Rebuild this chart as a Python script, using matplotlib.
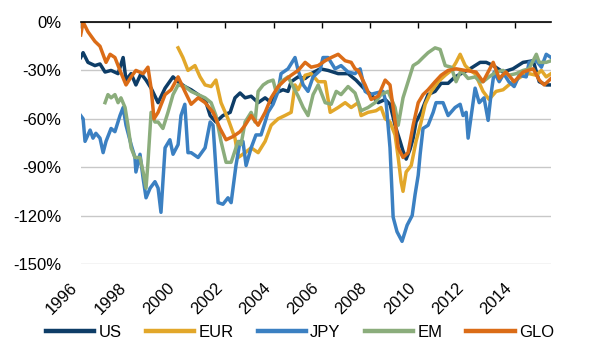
import matplotlib
matplotlib.use("Agg")
import matplotlib.pyplot as plt

plt.rcParams['font.family'] = ['Liberation Sans', 'DejaVu Sans']

# decimal years and drawdown values (%)
us_t = [1996.0, 1996.1, 1996.3, 1996.59, 1996.8, 1997.01, 1997.26, 1997.55, 1997.76, 1997.88,
        1998.09, 1998.29, 1998.5, 1998.71, 1998.92, 1999.21, 1999.5, 1999.83, 2000.04, 2000.32,
        2000.58, 2000.87, 2001.16, 2001.37, 2001.61, 2001.9, 2002.2, 2002.4, 2002.61, 2002.82,
        2003.07, 2003.36, 2003.65, 2003.9, 2004.1, 2004.39, 2004.6, 2004.73, 2005.02, 2005.31,
        2005.56, 2005.93, 2006.26, 2006.68, 2007.09, 2007.42, 2007.8, 2008.05, 2008.34, 2008.63,
        2008.83, 2009.04, 2009.25, 2009.37, 2009.5, 2009.66, 2009.79, 2009.91, 2010.12, 2010.41,
        2010.7, 2010.95, 2011.24, 2011.53, 2011.78, 2012.15, 2012.57, 2012.82, 2013.11, 2013.52,
        2013.93, 2014.35, 2014.77, 2015.02, 2015.31, 2015.51]
us_v = [-22, -19, -25, -27, -26, -31, -30, -32, -22, -36,
        -32, -39, -32, -36, -41, -50, -41, -34, -37, -40,
        -42, -45, -48, -58, -62, -58, -56, -47, -44, -47,
        -46, -50, -47, -50, -44, -42, -43, -37, -34, -35,
        -32, -29, -30, -32, -32, -36, -42, -45, -50, -48,
        -51, -64, -74, -80, -85, -79, -72, -62, -56, -45,
        -43, -38, -38, -34, -32, -29, -25, -25, -27, -31,
        -29, -25, -24, -37, -39, -39]

eur_t = [2000.04, 2000.24, 2000.45, 2000.74, 2000.95, 2001.16, 2001.41, 2001.61, 2001.82, 2002.11,
         2002.4, 2002.53, 2002.82, 2003.07, 2003.36, 2003.65, 2003.9, 2004.19, 2004.47, 2004.73,
         2004.89, 2005.02, 2005.31, 2005.56, 2005.85, 2006.14, 2006.35, 2006.68, 2006.97, 2007.22,
         2007.51, 2007.63, 2007.92, 2008.25, 2008.46, 2008.63, 2008.83, 2009.04, 2009.17, 2009.29,
         2009.37, 2009.5, 2009.71, 2009.91, 2010.12, 2010.29, 2010.54, 2010.83, 2011.12, 2011.37,
         2011.57, 2011.74, 2011.95, 2012.15, 2012.36, 2012.69, 2012.94, 2013.23, 2013.52, 2013.76,
         2014.06, 2014.35, 2014.6, 2014.9, 2015.11, 2015.31, 2015.51]
eur_v = [-16, -22, -30, -27, -34, -39, -40, -36, -50, -60,
         -72, -84, -81, -78, -81, -74, -64, -60, -58, -56,
         -39, -42, -33, -32, -37, -37, -56, -53, -50, -53,
         -50, -58, -56, -55, -53, -60, -62, -70, -84, -99,
         -105, -93, -89, -74, -62, -51, -43, -37, -33, -30,
         -25, -20, -27, -30, -32, -43, -48, -43, -42, -39,
         -36, -33, -32, -33, -30, -34, -32]

jpy_t = [1996.0, 1996.1, 1996.18, 1996.39, 1996.51, 1996.63, 1996.8, 1996.93, 1997.05, 1997.26,
         1997.42, 1997.63, 1997.76, 1997.88, 1998.09, 1998.25, 1998.29, 1998.46, 1998.59, 1998.71,
         1998.88, 1999.08, 1999.21, 1999.33, 1999.5, 1999.7, 1999.83, 2000.04, 2000.16, 2000.32,
         2000.45, 2000.58, 2000.87, 2001.16, 2001.37, 2001.49, 2001.7, 2001.9, 2002.11, 2002.24,
         2002.44, 2002.61, 2002.73, 2002.86, 2003.07, 2003.27, 2003.48, 2003.65, 2003.77, 2003.98,
         2004.19, 2004.31, 2004.6, 2004.89, 2005.02, 2005.23, 2005.43, 2005.64, 2005.93, 2006.05,
         2006.26, 2006.55, 2006.8, 2007.09, 2007.38, 2007.59, 2007.8, 2008.0, 2008.25, 2008.54,
         2008.67, 2008.83, 2008.96, 2009.12, 2009.33, 2009.54, 2009.75, 2009.87, 2010.0, 2010.08,
         2010.2, 2010.41, 2010.62, 2010.74, 2011.03, 2011.24, 2011.53, 2011.74, 2011.86, 2011.99,
         2012.07, 2012.2, 2012.36, 2012.53, 2012.73, 2012.9, 2013.02, 2013.15, 2013.36, 2013.55,
         2013.76, 2013.98, 2014.19, 2014.48, 2014.6, 2014.9, 2015.11, 2015.31, 2015.51]
jpy_v = [-58, -60, -74, -67, -72, -69, -72, -81, -74, -66,
         -68, -58, -53, -64, -76, -84, -93, -82, -97, -109,
         -103, -99, -103, -118, -78, -73, -82, -76, -58, -51,
         -81, -81, -84, -78, -62, -64, -112, -113, -109, -112,
         -89, -74, -74, -89, -78, -70, -70, -62, -56, -51,
         -43, -32, -29, -22, -30, -39, -43, -34, -30, -22,
         -22, -29, -27, -31, -32, -29, -43, -45, -44, -43,
         -50, -78, -121, -130, -136, -126, -120, -107, -95, -82,
         -66, -64, -56, -50, -50, -58, -53, -51, -58, -56,
         -72, -58, -41, -50, -47, -61, -45, -31, -37, -32,
         -37, -40, -33, -34, -25, -24, -28, -20, -22]

em_t = [1997.01, 1997.13, 1997.26, 1997.42, 1997.55, 1997.67, 1997.84, 1997.96, 1998.09, 1998.25,
        1998.46, 1998.59, 1998.71, 1998.79, 1998.92, 1999.08, 1999.21, 1999.41, 1999.62, 1999.83,
        2000.04, 2000.32, 2000.58, 2000.87, 2001.16, 2001.41, 2001.61, 2001.82, 2002.03, 2002.24,
        2002.44, 2002.53, 2002.65, 2002.82, 2003.07, 2003.23, 2003.36, 2003.57, 2003.77, 2003.98,
        2004.1, 2004.31, 2004.6, 2004.81, 2005.02, 2005.23, 2005.43, 2005.64, 2005.85, 2006.14,
        2006.39, 2006.6, 2006.8, 2007.09, 2007.38, 2007.63, 2007.92, 2008.21, 2008.46, 2008.75,
        2009.04, 2009.17, 2009.37, 2009.58, 2009.79, 2010.0, 2010.2, 2010.41, 2010.7, 2010.91,
        2011.12, 2011.37, 2011.57, 2011.78, 2012.07, 2012.36, 2012.57, 2012.69, 2012.94, 2013.23,
        2013.52, 2013.76, 2014.06, 2014.35, 2014.6, 2014.9, 2015.02, 2015.31, 2015.51]
em_v = [-50, -45, -47, -45, -50, -47, -53, -64, -78, -84,
        -84, -93, -103, -87, -56, -62, -62, -66, -56, -45,
        -39, -40, -43, -45, -47, -50, -58, -74, -87, -87,
        -78, -74, -76, -62, -56, -62, -43, -39, -37, -36,
        -43, -37, -34, -40, -46, -53, -58, -45, -39, -50,
        -51, -43, -45, -40, -44, -55, -53, -50, -45, -43,
        -53, -64, -47, -37, -27, -25, -22, -19, -16, -17,
        -27, -28, -37, -30, -35, -34, -37, -37, -34, -31,
        -30, -33, -32, -30, -29, -20, -25, -25, -24]

glo_t = [1996.0, 1996.1, 1996.3, 1996.59, 1996.8, 1997.05, 1997.22, 1997.42, 1997.63, 1997.88,
         1998.09, 1998.29, 1998.59, 1998.79, 1998.92, 1999.04, 1999.21, 1999.5, 1999.75, 2000.04,
         2000.32, 2000.58, 2000.87, 2001.16, 2001.49, 2001.78, 2002.03, 2002.32, 2002.61, 2002.82,
         2003.07, 2003.36, 2003.65, 2003.9, 2004.19, 2004.47, 2004.73, 2005.02, 2005.31, 2005.56,
         2005.85, 2006.14, 2006.39, 2006.68, 2006.97, 2007.22, 2007.38, 2007.51, 2007.8, 2008.05,
         2008.34, 2008.63, 2008.83, 2009.08, 2009.17, 2009.37, 2009.58, 2009.79, 2010.0, 2010.2,
         2010.41, 2010.7, 2010.95, 2011.24, 2011.57, 2011.95, 2012.4, 2012.69, 2013.11, 2013.36,
         2013.64, 2013.98, 2014.35, 2014.77, 2015.02, 2015.23, 2015.51]
glo_v = [-8, 0, -6, -12, -15, -25, -20, -22, -30, -39,
         -34, -30, -32, -28, -41, -60, -56, -45, -42, -34,
         -43, -51, -47, -50, -56, -66, -73, -71, -68, -64,
         -58, -64, -56, -47, -40, -36, -33, -30, -25, -28,
         -27, -24, -22, -20, -24, -25, -29, -30, -39, -48,
         -46, -36, -39, -66, -78, -84, -81, -64, -50, -45,
         -42, -37, -33, -30, -29, -30, -31, -37, -25, -35,
         -31, -37, -31, -29, -36, -39, -35]

series = [("US", us_t, us_v, "#0e3d67"),
          ("EUR", eur_t, eur_v, "#e2a72a"),
          ("JPY", jpy_t, jpy_v, "#3b80c2"),
          ("EM", em_t, em_v, "#8bad7c"),
          ("GLO", glo_t, glo_v, "#db6c17")]

year_ticks = list(range(1996, 2015, 2))
y_ticks = [0, -30, -60, -90, -120, -150]

fig = plt.figure(figsize=(6, 3.5), dpi=100)
ax = fig.add_axes([0.1345, 0.246, 0.7835, 0.691])

for name, t, v, c in series:
    ax.plot(t, v, color=c, lw=2.5, label=name, solid_joinstyle='round')

ax.set_xlim(1996, 2015.5)
ax.set_ylim(-150, 0)
ax.set_yticks(y_ticks)
ax.set_yticklabels(["%d%%" % y for y in y_ticks], fontsize=12)
ax.set_xticks(year_ticks)
ax.set_xticklabels([str(y) for y in year_ticks], rotation=45, ha='right', va='top', fontsize=12)
ax.tick_params(axis='y', length=0, pad=14)
ax.tick_params(axis='x', top=True, bottom=False, labelbottom=True, direction='in',
               length=4, width=1, pad=12)
ax.grid(axis='y', color='#c8c8c8', lw=1)
ax.set_axisbelow(True)
for s in ['left', 'right', 'bottom']:
    ax.spines[s].set_visible(False)
ax.spines['top'].set_linewidth(1.2)

leg = fig.legend(loc='center', bbox_to_anchor=(0.5, 0.05), ncol=5, frameon=False,
                 fontsize=12, handlelength=2.9, handletextpad=0.25, columnspacing=1.45)
for line in leg.get_lines():
    line.set_linewidth(3.2)

fig.savefig("out.png", dpi=100)
